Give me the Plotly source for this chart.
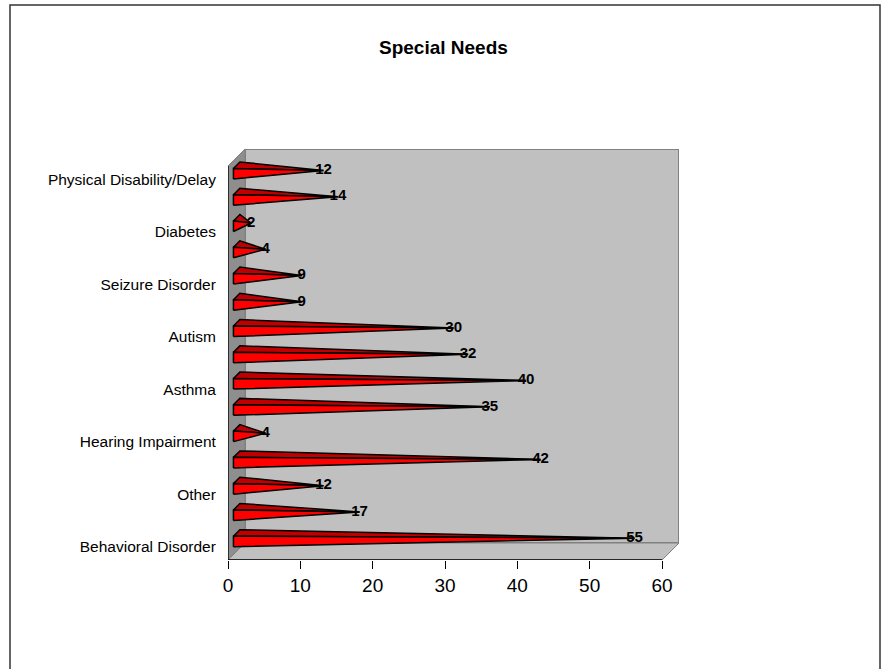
import plotly.graph_objects as go

# Special needs counts, listed from the bottom bar to the top bar
values = [55, 17, 12, 42, 4, 35, 40, 32, 30, 9, 9, 4, 2, 14, 12]
# Category labels shown on every other row, bottom to top
tick_labels = ["Behavioral Disorder", "Other", "Hearing Impairment", "Asthma",
               "Autism", "Seizure Disorder", "Diabetes", "Physical Disability/Delay"]
x_ticks = [0, 10, 20, 30, 40, 50, 60]
title = "Special Needs"

FONT = "Liberation Sans, Arial, sans-serif"
W, H = 886, 669
ML, MR, MT, MB = 228, 207, 149, 109
PW, PH = W - ML - MR, H - MT - MB
DEPTH = 17  # oblique depth of the 3-D box, in pixels

X_MAX = x_ticks[-1]
n = len(values)
xpu = (PW - DEPTH) / X_MAX
ypu = (PH - DEPTH) / n
DX, DY = DEPTH / xpu, DEPTH / ypu
Y0, Y1 = -0.5, n - 0.5


def proj(x, y, z):
    """Oblique projection of a point of the 3-D box onto the 2-D axes."""
    return x + z * DX, y + z * DY


def poly(points, fill, line_color, line_width, name):
    pts = [proj(*p) for p in points]
    pts.append(pts[0])
    return go.Scatter(x=[p[0] for p in pts], y=[p[1] for p in pts], mode="lines",
                      fill="toself", fillcolor=fill,
                      line=dict(color=line_color, width=line_width),
                      hoverinfo="skip", showlegend=False, name=name)


fig = go.Figure()

# walls and floor
fig.add_trace(poly([(0, Y0, 1), (X_MAX, Y0, 1), (X_MAX, Y1, 1), (0, Y1, 1)],
                   "#c0c0c0", "#808080", 2, "back wall"))
fig.add_trace(poly([(0, Y0, 0), (0, Y0, 1), (0, Y1, 1), (0, Y1, 0)],
                   "#8e8e8e", "#808080", 1, "side wall"))
fig.add_trace(poly([(0, Y0, 0), (X_MAX, Y0, 0), (X_MAX, Y0, 1), (0, Y0, 1)],
                   "#c0c0c0", "#808080", 1, "floor"))

# pyramid bars
ZF, ZB, ZM, HH = 0.32, 0.70, 0.51, 0.2
for i, v in enumerate(values):
    fig.add_trace(poly([(0, i + HH, ZF), (0, i + HH, ZB), (v, i, ZM)],
                       "#c00000", "black", 1.5, "top"))
    fig.add_trace(poly([(0, i - HH, ZF), (0, i + HH, ZF), (v, i, ZM)],
                       "#ff0000", "black", 1.5, "front"))

# axis lines
fig.add_trace(go.Scatter(x=[0, 0, X_MAX], y=[Y1, Y0, Y0], mode="lines",
                         line=dict(color="black", width=1.3),
                         hoverinfo="skip", showlegend=False))

# value labels at the bar tips
tips = [proj(v, i, ZM) for i, v in enumerate(values)]
fig.add_trace(go.Scatter(x=[t[0] for t in tips], y=[t[1] for t in tips],
                         mode="text", text=[str(v) for v in values],
                         textposition="middle center",
                         textfont=dict(family=FONT, size=15, color="black", weight="bold"),
                         cliponaxis=False, hoverinfo="skip", showlegend=False))


def paper_x(px):
    return (px - ML) / PW


def paper_y(py):
    return (H - MB - py) / PH


fig.update_layout(
    width=W, height=H, autosize=False,
    margin=dict(l=ML, r=MR, t=MT, b=MB, pad=0),
    paper_bgcolor="white", plot_bgcolor="rgba(0,0,0,0)",
    font=dict(family=FONT, color="black"),
    showlegend=False,
    xaxis=dict(range=[0, X_MAX + DX], tickvals=x_ticks, ticks="outside", ticklen=8,
               tickwidth=1.3, tickcolor="black", showgrid=False, zeroline=False,
               showline=False, tickfont=dict(size=19, family=FONT, color="black"),
               fixedrange=True),
    yaxis=dict(range=[Y0, Y0 + PH / ypu],
               tickvals=[2 * k for k in range(len(tick_labels))], ticktext=tick_labels,
               ticks="outside", ticklen=8, tickcolor="rgba(0,0,0,0)",
               showgrid=False, zeroline=False, showline=False,
               tickfont=dict(size=15.5, family=FONT, color="black"), fixedrange=True),
    yaxis2=dict(range=[Y0, Y0 + PH / ypu], overlaying="y", side="left",
                tickvals=[k - 0.5 for k in range(n + 1)], showticklabels=False,
                ticks="outside", ticklen=8, tickwidth=1.3, tickcolor="black",
                showgrid=False, zeroline=False, showline=False, fixedrange=True),
    shapes=[dict(type="rect", xref="paper", yref="paper",
                 x0=paper_x(10), x1=paper_x(880), y0=paper_y(700), y1=paper_y(5),
                 line=dict(color="#333333", width=1.5), fillcolor="rgba(0,0,0,0)",
                 layer="below")],
    annotations=[dict(text="<b>" + title + "</b>", xref="paper", yref="paper",
                      x=paper_x(443), y=paper_y(47), xanchor="center", yanchor="middle",
                      showarrow=False, font=dict(size=19, family=FONT, color="black"))],
)

fig.write_html("out.html")
